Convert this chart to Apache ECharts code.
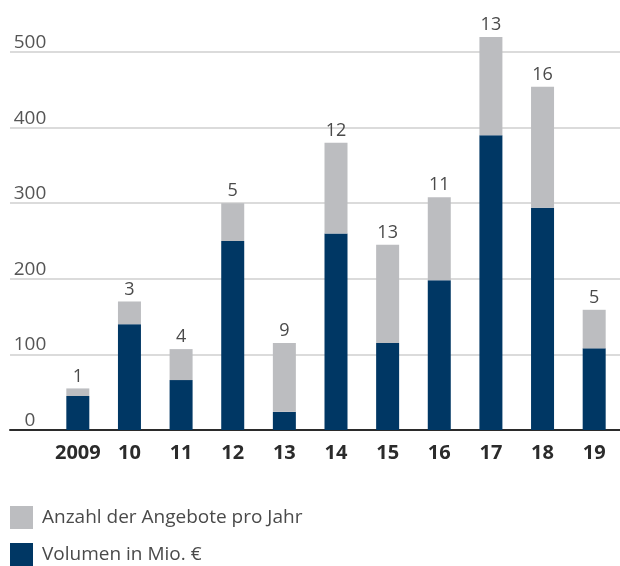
<!DOCTYPE html>
<html>
<head>
<meta charset="utf-8">
<script src="https://cdn.jsdelivr.net/npm/echarts@6/dist/echarts.min.js"></script>
<style>
  html, body { margin: 0; padding: 0; background: #fff; }
  #chart { width: 620px; height: 566px; }
</style>
</head>
<body>
<div id="chart"></div>
<script>
// years on the x axis
const years = ['2009', '10', '11', '12', '13', '14', '15', '16', '17', '18', '19'];
// navy part: volume in Mio. EUR
const volumen = [45, 140, 66, 250, 24, 260, 115, 198, 390, 294, 108];
// gray part stacked on top
const angeboteBar = [10, 30, 41, 50, 91, 120, 130, 110, 130, 160, 51];
// numbers written above the bars
const angeboteAnzahl = [1, 3, 4, 5, 9, 12, 13, 11, 13, 16, 5];

const navy = '#003764';
const gray = '#bcbdc0';
const font = '"Open Sans", "Noto Sans", sans-serif';

var dom = document.getElementById('chart');
var myChart = echarts.init(dom, null, { renderer: 'canvas' });

function legendAt(name, top) {
  return {
    left: 10,
    top: top,
    padding: 0,
    itemWidth: 23,
    itemHeight: 23,
    icon: 'rect',
    selectedMode: false,
    data: [name],
    textStyle: { fontSize: 19, color: '#4a4a4a', fontFamily: font, padding: [0, 0, 0, 4] }
  };
}

var option = {
  animation: false,
  textStyle: { fontFamily: font },
  legend: [
    legendAt('Anzahl der Angebote pro Jahr', 506),
    legendAt('Volumen in Mio. €', 543)
  ],
  grid: [
    // grid for the gridlines and the base line, full width
    { left: 10, right: 0, top: 52, height: 378 },
    // grid for the bars
    { left: 52, width: 582, top: 52, height: 378 }
  ],
  xAxis: [
    {
      gridIndex: 0,
      type: 'value',
      min: 0, max: 1,
      axisLine: { show: true, onZero: false, lineStyle: { color: '#2b2b2b', width: 2 } },
      axisTick: { show: false },
      axisLabel: { show: false },
      splitLine: { show: false }
    },
    {
      gridIndex: 1,
      type: 'category',
      data: years,
      axisLine: { show: false },
      axisTick: { show: false },
      axisLabel: { interval: 0, fontSize: 20, fontWeight: 'bold', color: '#2b2b2b', margin: 13, fontFamily: font }
    }
  ],
  yAxis: [
    {
      gridIndex: 0,
      type: 'value',
      min: 0, max: 500, interval: 100,
      axisLine: { show: false },
      axisTick: { show: false },
      axisLabel: {
        inside: true, align: 'center', verticalAlign: 'bottom',
        margin: 20, fontSize: 19, color: '#555', fontFamily: font
      },
      splitLine: { lineStyle: { color: '#cfcfcf', width: 1.5 } }
    },
    {
      gridIndex: 1,
      type: 'value',
      min: 0, max: 500, interval: 100,
      axisLine: { show: false },
      axisTick: { show: false },
      axisLabel: { show: false },
      splitLine: { show: false }
    }
  ],
  series: [
    {
      name: 'Volumen in Mio. €',
      type: 'bar',
      xAxisIndex: 1, yAxisIndex: 1,
      stack: 'total',
      barWidth: 23,
      clip: false,
      itemStyle: { color: navy },
      data: volumen
    },
    {
      name: 'Anzahl der Angebote pro Jahr',
      type: 'bar',
      xAxisIndex: 1, yAxisIndex: 1,
      stack: 'total',
      barWidth: 23,
      clip: false,
      itemStyle: { color: gray },
      label: {
        show: true,
        position: 'top',
        distance: 3,
        fontSize: 18,
        color: '#4a4a4a',
        fontFamily: font,
        formatter: function (p) { return angeboteAnzahl[p.dataIndex]; }
      },
      data: angeboteBar
    }
  ]
};

myChart.setOption(option);
window.addEventListener('resize', myChart.resize);
</script>
</body>
</html>
